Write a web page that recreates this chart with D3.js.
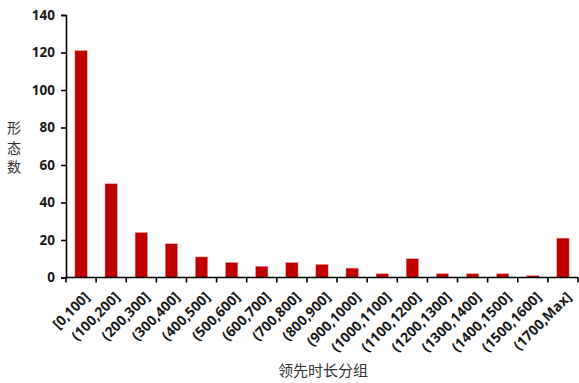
<!DOCTYPE html>
<html>
<head>
<meta charset="utf-8">
<script src="https://cdn.jsdelivr.net/npm/d3@7/dist/d3.min.js"></script>
<style>
  html, body { margin: 0; padding: 0; background: #fff; }
  svg { display: block; }
</style>
</head>
<body>
<svg id="chart" width="579" height="383"></svg>
<script>
// Lead-time groups and the number of patterns in each
const categories = ["[0,100]", "(100,200]", "(200,300]", "(300,400]", "(400,500]", "(500,600]",
  "(600,700]", "(700,800]", "(800,900]", "(900,1000]", "(1000,1100]", "(1100,1200]",
  "(1200,1300]", "(1300,1400]", "(1400,1500]", "(1500,1600]", "(1700,Max]"];
const counts = [121, 50, 24, 18, 11, 8, 6, 8, 7, 5, 2, 10, 2, 2, 2, 1, 21];
const yTicks = [0, 20, 40, 60, 80, 100, 120, 140];
const yTitle = ["形", "态", "数"];
const xTitle = "领先时长分组";

const svg = d3.select("#chart");
const plotLeft = 66, plotRight = 578, plotTop = 15, plotBottom = 277.5;

const x = d3.scaleBand().domain(categories).range([plotLeft, plotRight]).paddingInner(0.59).paddingOuter(0.295);
const y = d3.scaleLinear().domain([0, 140]).range([plotBottom, plotTop]);

// Bars
svg.append("g").selectAll("rect").data(counts).join("rect")
  .attr("x", (d, i) => x(categories[i]))
  .attr("width", x.bandwidth())
  .attr("y", d => y(d))
  .attr("height", d => y(0) - y(d))
  .attr("fill", "#C00000")
  .attr("stroke", "#e8a0a0")
  .attr("stroke-width", 0.5);

// Y axis
const yAxis = d3.axisLeft(y).tickValues(yTicks).tickSize(5).tickPadding(6);
const gy = svg.append("g").attr("transform", `translate(${plotLeft},0)`).call(yAxis);
gy.select(".domain").attr("stroke", "#000").attr("stroke-width", 1.6);
gy.selectAll(".tick line").attr("stroke", "#000").attr("stroke-width", 1.6);
gy.selectAll(".tick text")
  .attr("font-family", "'Open Sans', 'Liberation Sans', sans-serif")
  .attr("font-weight", "bold")
  .attr("font-size", 13.5)
  .attr("fill", "#1a1a1a");

// X axis: ticks on band boundaries
const boundaries = d3.range(categories.length + 1)
  .map(i => plotLeft + i * (plotRight - plotLeft) / categories.length);
const gx = svg.append("g");
gx.append("line")
  .attr("x1", plotLeft - 1).attr("x2", plotRight)
  .attr("y1", plotBottom).attr("y2", plotBottom)
  .attr("stroke", "#000").attr("stroke-width", 1.6);
gx.selectAll("line.tk").data(boundaries).join("line")
  .attr("class", "tk")
  .attr("x1", d => d).attr("x2", d => d)
  .attr("y1", plotBottom).attr("y2", plotBottom + 5)
  .attr("stroke", "#000").attr("stroke-width", 1.6);

gx.selectAll("text").data(categories).join("text")
  .attr("transform", d => `translate(${x(d) + x.bandwidth() / 2 + 1},${plotBottom + 12}) rotate(-45)`)
  .attr("text-anchor", "end")
  .attr("dominant-baseline", "hanging")
  .attr("font-family", "'Open Sans', 'Liberation Sans', sans-serif")
  .attr("font-weight", "bold")
  .attr("font-size", 14)
  .attr("fill", "#1a1a1a")
  .text(d => d);

// Axis titles
svg.append("g").selectAll("text").data(yTitle).join("text")
  .attr("x", 14)
  .attr("y", (d, i) => 133 + i * 19.5)
  .attr("text-anchor", "middle")
  .attr("font-family", "'Noto Sans CJK SC', sans-serif")
  .attr("font-size", 14)
  .attr("fill", "#333")
  .text(d => d);

svg.append("text")
  .attr("x", 323).attr("y", 376)
  .attr("text-anchor", "middle")
  .attr("font-family", "'Noto Sans CJK SC', sans-serif")
  .attr("font-size", 15)
  .attr("fill", "#333")
  .text(xTitle);
</script>
</body>
</html>
